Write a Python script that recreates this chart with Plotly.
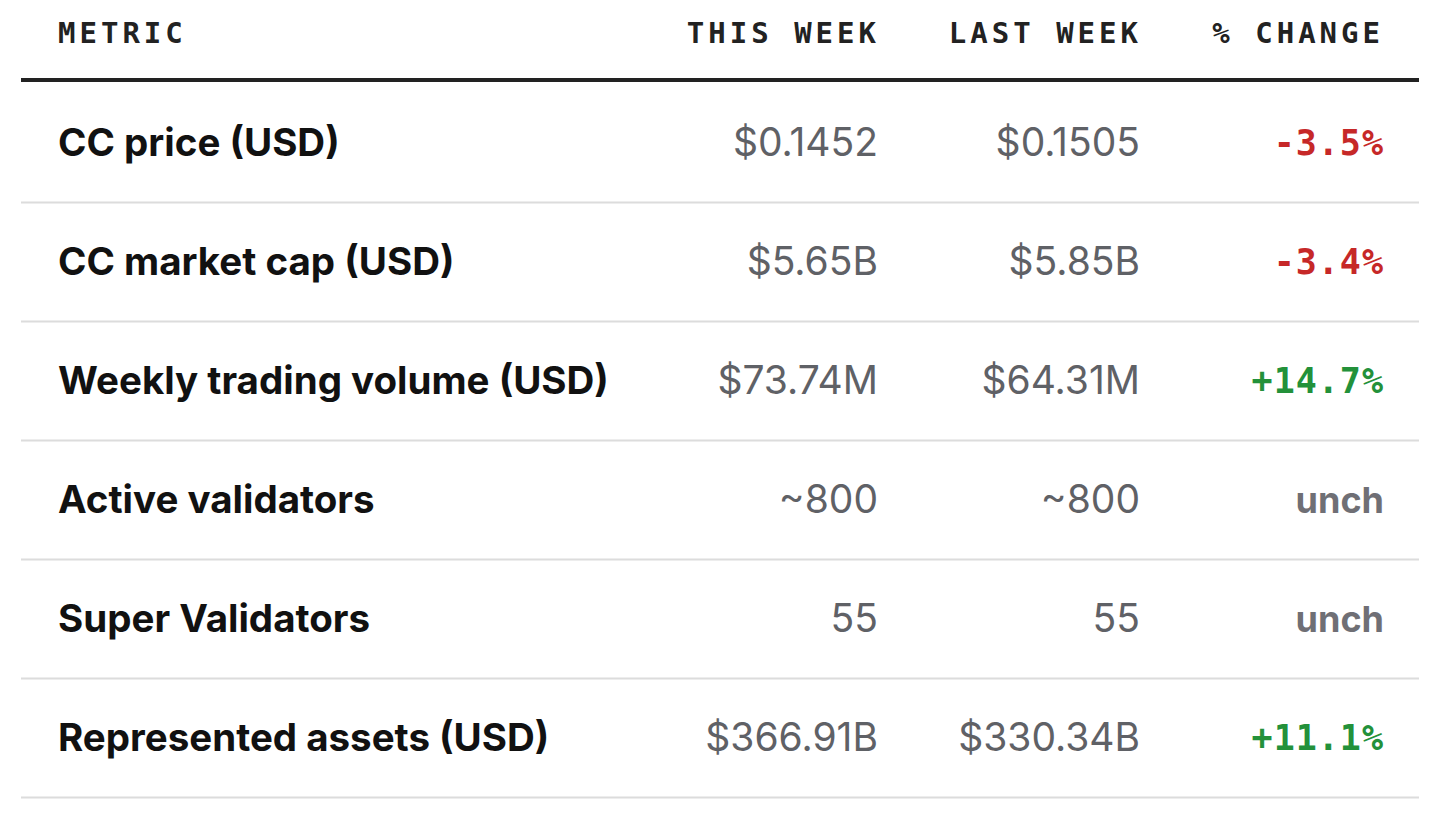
import plotly.graph_objects as go

# data
headers = ["METRIC", "THIS WEEK", "LAST WEEK", "% CHANGE"]
metrics = [
    "CC price (USD)",
    "CC market cap (USD)",
    "Weekly trading volume (USD)",
    "Active validators",
    "Super Validators",
    "Represented assets (USD)",
]
this_week = ["$0.1452", "$5.65B", "$73.74M", "~800", "55", "$366.91B"]
last_week = ["$0.1505", "$5.85B", "$64.31M", "~800", "55", "$330.34B"]
pct_change = ["-3.5%", "-3.4%", "+14.7%", "unch", "unch", "+11.1%"]

# layout constants (page pixels; the page body adds an 8px margin)
W, H = 1440, 818
BODY = 8
ROW_H = 119
FIRST_ROW = 143
X_LEFT, X_RIGHT = 21, 1419
X_METRIC, X_THIS, X_LAST, X_CHG = 58, 878, 1140, 1384
HEADER_Y = (36 - FIRST_ROW) / ROW_H
RULE_Y = (80 - FIRST_ROW) / ROW_H
TEXT_NUDGE = 0.03

RED, GREEN, GREY_CHG = "#c62828", "#23913a", "#6f6f75"
MONO = "DejaVu Sans Mono"
SANS = "Inter"


def spaced(t, px):
    return '<span style="letter-spacing:%dpx">%s</span>' % (px, t)


def chg_color(v):
    if v.startswith("-"):
        return RED
    if v.startswith("+"):
        return GREEN
    return GREY_CHG


rows = list(range(len(metrics)))
ty = [r + TEXT_NUDGE for r in rows]
fig = go.Figure()

# header row
fig.add_trace(go.Scatter(
    x=[X_METRIC], y=[HEADER_Y], mode="text", text=[spaced(headers[0], 4)],
    textposition="middle right",
    textfont=dict(family=MONO, size=29, color="#222222", weight="bold")))
fig.add_trace(go.Scatter(
    x=[X_THIS + 2, X_LAST + 2, X_CHG], y=[HEADER_Y] * 3, mode="text",
    text=[spaced(h, 4) for h in headers[1:]],
    textposition="middle left",
    textfont=dict(family=MONO, size=29, color="#222222", weight="bold")))

# metric names
fig.add_trace(go.Scatter(
    x=[X_METRIC] * len(rows), y=ty, mode="text", text=metrics,
    textposition="middle right",
    textfont=dict(family=SANS, size=38.5, color="#111111", weight=700)))

# values
fig.add_trace(go.Scatter(
    x=[X_THIS] * len(rows), y=ty, mode="text", text=this_week,
    textposition="middle left",
    textfont=dict(family=SANS, size=39, color="#5f6166")))
fig.add_trace(go.Scatter(
    x=[X_LAST] * len(rows), y=ty, mode="text", text=last_week,
    textposition="middle left",
    textfont=dict(family=SANS, size=39, color="#5f6166")))

# % change
chg_text = []
chg_fonts = []
for v in pct_change:
    if v == "unch":
        chg_text.append(v)
        chg_fonts.append(SANS)
    else:
        chg_text.append(spaced(v, 1))
        chg_fonts.append(MONO)
fig.add_trace(go.Scatter(
    x=[X_CHG] * len(rows), y=ty, mode="text", text=chg_text,
    textposition="middle left",
    textfont=dict(family=chg_fonts, size=[35 if f == MONO else 36 for f in chg_fonts],
                  color=[chg_color(v) for v in pct_change], weight="bold")))

# rules
fig.add_shape(type="line", x0=X_LEFT, x1=X_RIGHT, y0=RULE_Y, y1=RULE_Y,
              line=dict(color="#222222", width=4))
for r in rows:
    fig.add_shape(type="line", x0=X_LEFT, x1=X_RIGHT, y0=r + 0.5, y1=r + 0.5,
                  line=dict(color="#dcdcdc", width=2))

fig.update_traces(hoverinfo="skip", showlegend=False)
y_top = -(FIRST_ROW - BODY) / ROW_H
fig.update_layout(
    width=W, height=H,
    margin=dict(l=0, r=0, t=0, b=0),
    paper_bgcolor="white", plot_bgcolor="white",
    xaxis=dict(range=[BODY, W + BODY], visible=False, fixedrange=True),
    yaxis=dict(range=[y_top + H / ROW_H, y_top], visible=False, fixedrange=True),
)

fig.write_html("out.html", config={"displayModeBar": False})
